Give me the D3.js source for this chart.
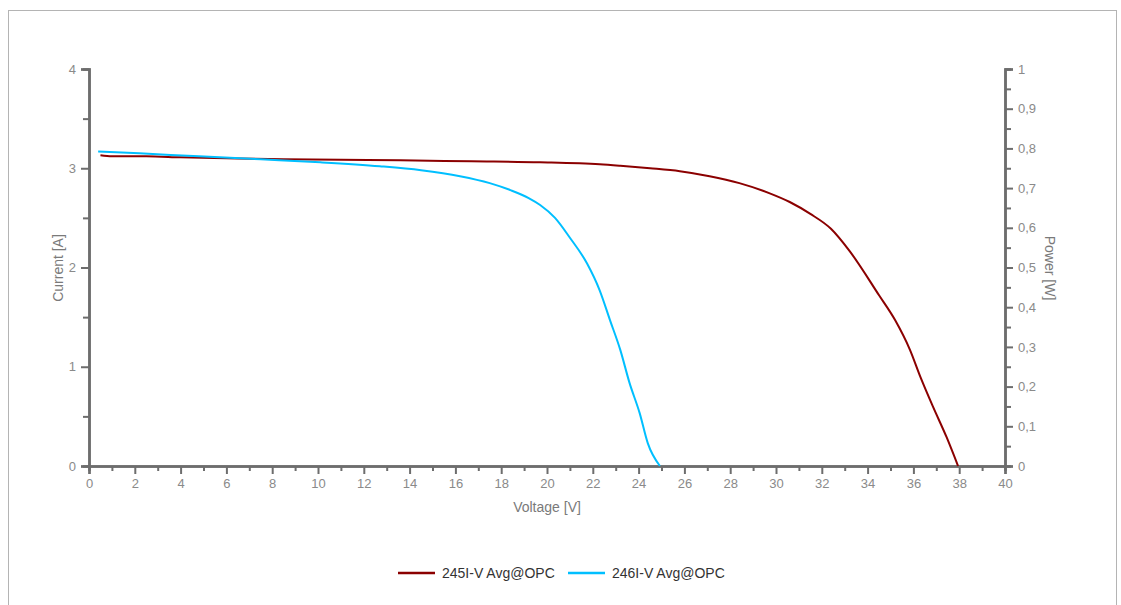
<!DOCTYPE html>
<html>
<head>
    <title>I-V curves</title>
    <script src="https://d3js.org/d3.v7.min.js"></script>
    <style>
        body { margin: 0; background: #fff; }
        #chart { width: 1121px; height: 605px; }
        .tick-label { font-family: "Liberation Sans", Arial, sans-serif; font-size: 13px; fill: #8a8a8a; }
        .axis-title { font-family: "Liberation Sans", Arial, sans-serif; font-size: 14px; fill: #7a7a7a; }
        .legend-label { font-family: "Liberation Sans", Arial, sans-serif; font-size: 14px; fill: #333; }
    </style>
</head>
<body>
    <div id="chart"></div>
    <script>
        // series: voltage [V] and current [A]
        const v245 = [0.5, 1, 2.5, 4, 6, 8.5, 11, 13.6, 16.7, 19.7, 22.3, 23.2, 24.5, 25.8, 27.1, 28.4, 29.7, 30.6, 31.5, 32.4, 33.2, 34.5, 35.2, 35.85, 36.3, 36.85, 37.45, 37.95];
        const i245 = [3.13, 3.12, 3.12, 3.11, 3.10, 3.09, 3.085, 3.08, 3.07, 3.06, 3.04, 3.025, 3.00, 2.97, 2.92, 2.85, 2.75, 2.66, 2.54, 2.39, 2.17, 1.72, 1.47, 1.17, 0.90, 0.60, 0.29, 0];
        const v246 = [0.4, 2.2, 4.8, 7.5, 10.1, 12.7, 14.5, 16.2, 17.5, 18.4, 19.2, 19.7, 20.35, 21.0, 21.75, 22.3, 22.75, 23.2, 23.6, 24.05, 24.4, 24.93];
        const i246 = [3.17, 3.15, 3.12, 3.09, 3.06, 3.02, 2.98, 2.92, 2.85, 2.78, 2.70, 2.63, 2.50, 2.30, 2.04, 1.77, 1.47, 1.17, 0.84, 0.53, 0.23, 0];

        const seriesNames = ["245I-V Avg@OPC", "246I-V Avg@OPC"];
        const seriesColors = ["#8b0000", "#00bfff"];

        const xTicks = d3.range(0, 41, 2);
        const yTicks = [0, 1, 2, 3, 4];
        const y2Ticks = [0, 0.1, 0.2, 0.3, 0.4, 0.5, 0.6, 0.7, 0.8, 0.9, 1];

        const width = 1121, height = 605;
        const axisColor = "#6d6d6d";

        const svg = d3.select("#chart").append("svg")
            .attr("width", width)
            .attr("height", height);

        // outer frame
        svg.append("rect")
            .attr("x", 8.5).attr("y", 10.5)
            .attr("width", 1108).attr("height", 610)
            .attr("fill", "none")
            .attr("stroke", "#b4b4b4");

        const x = d3.scaleLinear().domain([0, 40]).range([89, 1005]);
        const y = d3.scaleLinear().domain([0, 4]).range([466, 69]);
        const y2 = d3.scaleLinear().domain([0, 1]).range([466, 69]);

        function styleAxis(g) {
            g.select(".domain").attr("stroke", axisColor).attr("stroke-width", 2.5);
            g.selectAll(".tick line").attr("stroke", axisColor).attr("stroke-width", 2);
            g.selectAll(".tick text").attr("class", "tick-label").attr("fill", null);
        }

        // minor ticks first
        svg.append("g")
            .attr("transform", "translate(0,466)")
            .call(d3.axisBottom(x).tickValues(d3.range(1, 40, 2)).tickSize(5).tickFormat(""))
            .call(styleAxis);
        svg.append("g")
            .attr("transform", "translate(89,0)")
            .call(d3.axisLeft(y).tickValues([0.5, 1.5, 2.5, 3.5]).tickSize(6).tickFormat(""))
            .call(styleAxis);
        svg.append("g")
            .attr("transform", "translate(1005,0)")
            .call(d3.axisRight(y2).tickValues(d3.range(0.05, 1, 0.1)).tickSize(6).tickFormat(""))
            .call(styleAxis);

        // major ticks
        svg.append("g")
            .attr("transform", "translate(0,466)")
            .call(d3.axisBottom(x).tickValues(xTicks).tickSize(8).tickPadding(5).tickFormat(d3.format("d")))
            .call(styleAxis);
        svg.append("g")
            .attr("transform", "translate(89,0)")
            .call(d3.axisLeft(y).tickValues(yTicks).tickSize(8).tickPadding(5).tickFormat(d3.format("d")))
            .call(styleAxis);
        svg.append("g")
            .attr("transform", "translate(1005,0)")
            .call(d3.axisRight(y2).tickValues(y2Ticks).tickSize(8).tickPadding(5)
                .tickFormat(d => String(+d.toFixed(1)).replace(".", ",")))
            .call(styleAxis);

        // axis titles
        svg.append("text").attr("class", "axis-title")
            .attr("transform", "translate(63,268) rotate(-90)")
            .attr("text-anchor", "middle")
            .text("Current [A]");
        svg.append("text").attr("class", "axis-title")
            .attr("transform", "translate(1045,268) rotate(90)")
            .attr("text-anchor", "middle")
            .text("Power [W]");
        svg.append("text").attr("class", "axis-title")
            .attr("x", 547).attr("y", 512)
            .attr("text-anchor", "middle")
            .text("Voltage [V]");

        // curves
        const line = d3.line().curve(d3.curveMonotoneX).x(d => x(d[0])).y(d => y(d[1]));
        const series = [d3.zip(v245, i245), d3.zip(v246, i246)];
        series.forEach((pts, k) => {
            svg.append("path")
                .datum(pts)
                .attr("fill", "none")
                .attr("stroke", seriesColors[k])
                .attr("stroke-width", 2)
                .attr("stroke-linejoin", "round")
                .attr("d", line);
        });

        // legend
        const legendX = [398, 568];
        seriesNames.forEach((name, k) => {
            svg.append("line")
                .attr("x1", legendX[k]).attr("x2", legendX[k] + 37)
                .attr("y1", 573).attr("y2", 573)
                .attr("stroke", seriesColors[k])
                .attr("stroke-width", 2.5);
            svg.append("text").attr("class", "legend-label")
                .attr("x", legendX[k] + 44).attr("y", 578)
                .text(name);
        });
    </script>
</body>
</html>
